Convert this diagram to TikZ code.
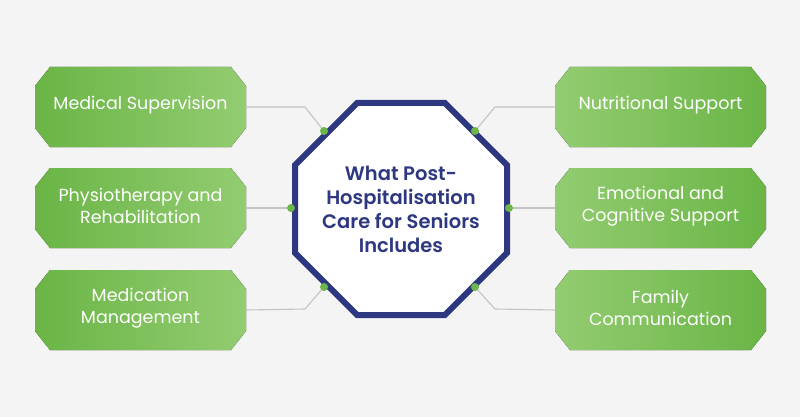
\documentclass[tikz,border=0pt]{standalone}
\usepackage{fontspec}
\setmainfont{Poppins}
\newfontfamily\semib{Poppins}[UprightFont=* SemiBold]
\definecolor{bg}{HTML}{F4F4F4}
\definecolor{navy}{HTML}{2E3880}
\definecolor{gdark}{HTML}{6AB546}
\definecolor{glight}{HTML}{93CC71}
\definecolor{dotg}{HTML}{6DB64A}
\definecolor{linegray}{HTML}{C4C4C4}
\tikzset{
  boxshape/.style={minimum width=211pt,minimum height=80pt,inner sep=0pt,outer sep=0pt},
  boxtext/.style={text=white,font=\fontsize{17.5}{21.5}\selectfont,align=center,inner sep=0pt},
  conn/.style={draw=linegray,line width=1.1pt},
  gdot/.style={circle,fill=dotg,minimum size=8pt,inner sep=0pt},
  octline/.style={draw=navy,line width=6pt,fill=white,line join=miter},
  octtext/.style={text=navy,align=center,inner sep=0pt,font=\fontsize{19.5}{24}\selectfont\semib}
}
\newcommand\cbox[6]{%
  \node[boxshape] (#1) at (#2,#3) {};
  \fill[left color=#4,right color=#5] ([xshift=15pt]#1.north west) -- ([xshift=-15pt]#1.north east) -- ([yshift=-19pt]#1.north east) -- ([yshift=19pt]#1.south east) -- ([xshift=-15pt]#1.south east) -- ([xshift=15pt]#1.south west) -- ([yshift=19pt]#1.south west) -- ([yshift=-19pt]#1.north west) -- cycle;
  \node[boxtext] (#1t) at ([yshift=2pt]#1.center) {#6};
}
\begin{document}
\begin{tikzpicture}[x=1pt,y=-1pt]
\fill[bg] (0,0) rectangle (800,417);
\useasboundingbox (0,0) rectangle (800,417);
% boxes
\cbox{b1}{140.5}{107}{gdark}{glight}{Medical Supervision}
\cbox{b2}{140.5}{208}{gdark}{glight}{Physiotherapy and\\Rehabilitation}
\cbox{b3}{140.5}{310}{gdark}{glight}{Medication\\Management}
\cbox{b4}{660.5}{107}{glight}{gdark}{Nutritional Support}
\cbox{b5}{660.5}{208}{glight}{gdark}{Emotional and\\Cognitive Support}
\cbox{b6}{660.5}{310}{glight}{gdark}{Family\\Communication}
% bend points
\coordinate (k1) at (305,107);
\coordinate (k3) at (305,309);
\coordinate (k4) at (495,107);
\coordinate (k6) at (495,309);
% dots positions
\coordinate (p1) at (324,131);
\coordinate (p2) at (291,208);
\coordinate (p3) at (324,287);
\coordinate (p4) at (475,131);
\coordinate (p5) at (509,208);
\coordinate (p6) at (475,287);
% connectors
\draw[conn] (b1.east) -- (k1) -- (p1);
\draw[conn] (b2.east) -- (p2);
\draw[conn] (b3.east) -- (k3) -- (p3);
\draw[conn] (b4.west) -- (k4) -- (p4);
\draw[conn] (b5.west) -- (p5);
\draw[conn] (b6.west) -- (k6) -- (p6);
% centre octagon
\draw[octline] (357.09,103) -- (444.91,103) -- (507,165.09) -- (507,252.91) -- (444.91,315) -- (357.09,315) -- (295,252.91) -- (295,165.09) -- cycle;
\node[octtext] (c) at (401,209) {What Post-\\Hospitalisation\\Care for Seniors\\Includes};
% dots
\foreach \i in {1,...,6} {\node[gdot] (d\i) at (p\i) {};}
\end{tikzpicture}
\end{document}
